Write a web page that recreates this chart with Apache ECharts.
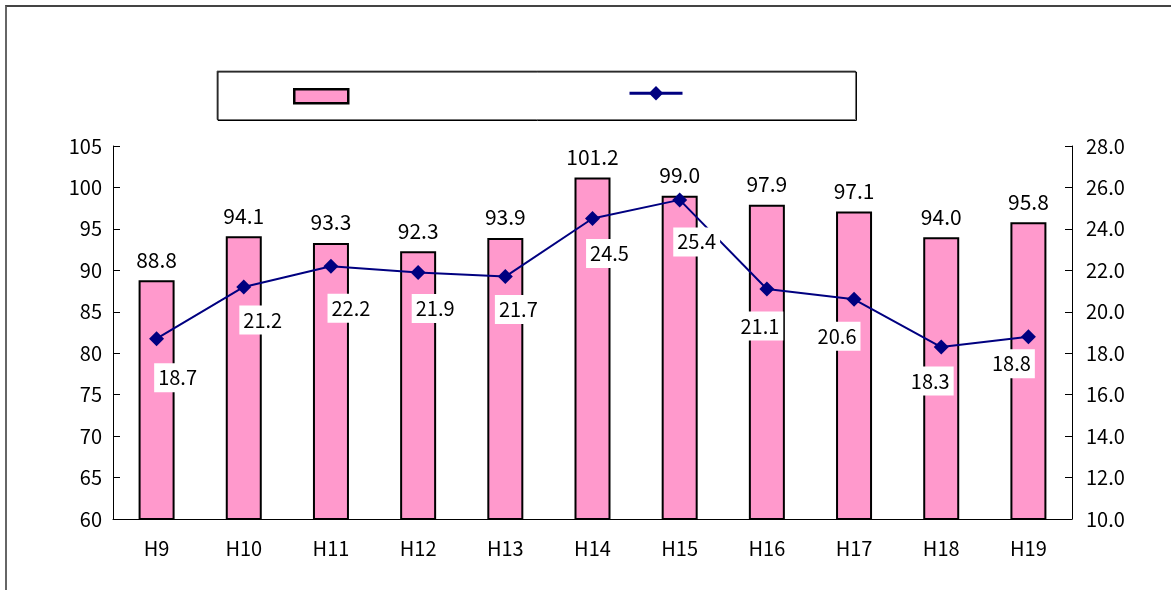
<!DOCTYPE html>
<html>
<head>
<meta charset="utf-8">
<script src="https://cdn.jsdelivr.net/npm/echarts@6/dist/echarts.min.js"></script>
<style>
html,body{margin:0;padding:0;background:#fff;}
#wrap{position:relative;width:1171px;height:590px;overflow:hidden;}
#frame{position:absolute;left:5px;top:5px;width:1200px;height:700px;border-top:2px solid #444;border-left:2px solid #666;box-sizing:border-box;}
#chart{position:absolute;left:0;top:0;width:1171px;height:590px;}
</style>
</head>
<body>
<div id="wrap"><div id="frame"></div><div id="chart"></div></div>
<script>
const categories = ['H9','H10','H11','H12','H13','H14','H15','H16','H17','H18','H19'];
const barValues = [88.8, 94.1, 93.3, 92.3, 93.9, 101.2, 99.0, 97.9, 97.1, 94.0, 95.8];
const lineValues = [18.7, 21.2, 22.2, 21.9, 21.7, 24.5, 25.4, 21.1, 20.6, 18.3, 18.8];
const leftTicks = {min: 60, max: 105, interval: 5};
const rightTicks = {min: 10, max: 28, interval: 2};

// label placement styling (offsets of line labels from their points)
const lineLabelOffsets = [[21,39],[19,33],[20,42],[17,36],[13,33],[17,35],[17,42],[-7,37],[-17,37],[-11,34],[-17,27]];

const FONT = '"Noto Sans CJK JP", "Liberation Sans", sans-serif';

const chart = echarts.init(document.getElementById('chart'), null, {renderer: 'canvas'});
chart.setOption({
  animation: false,
  backgroundColor: 'transparent',
  textStyle: {fontFamily: FONT},
  legend: [{
    left: 218, top: 72,
    padding: [16, 503, 16, 75],
    itemWidth: 54, itemHeight: 14,
    borderColor: '#000', borderWidth: 1,
    backgroundColor: '#fff',
    shadowColor: 'rgba(0,0,0,0.55)', shadowOffsetY: -1, shadowOffsetX: -1, shadowBlur: 0,
    textStyle: {fontSize: 1, color: '#fff'},
    icon: 'rect',
    data: [{name: ' ', itemStyle: {borderWidth: 2.5}}]
  }, {
    left: 628, top: 86,
    padding: 0,
    itemWidth: 53, itemHeight: 18,
    textStyle: {fontSize: 1, color: '#fff'},
    z: 5,
    data: [{name: '  ', lineStyle: {width: 3}}]
  }],
  grid: {left: 113, right: 99, top: 146, bottom: 71, containLabel: false},
  xAxis: {
    type: 'category',
    data: categories,
    axisLine: {lineStyle: {color: '#000', width: 1}},
    axisTick: {inside: true, length: 6, lineStyle: {color: '#000'}},
    axisLabel: {color: '#000', fontSize: 20, margin: 19, fontFamily: FONT}
  },
  yAxis: [{
    type: 'value', position: 'left',
    min: leftTicks.min, max: leftTicks.max, interval: leftTicks.interval,
    splitLine: {show: false},
    axisLine: {show: true, lineStyle: {color: '#000'}},
    axisTick: {show: true, inside: true, length: 7, lineStyle: {color: '#000'}},
    axisLabel: {color: '#000', fontSize: 20, margin: 11, fontFamily: FONT}
  }, {
    type: 'value', position: 'right',
    min: rightTicks.min, max: rightTicks.max, interval: rightTicks.interval,
    splitLine: {show: false},
    axisLine: {show: true, lineStyle: {color: '#000'}},
    axisTick: {show: true, inside: true, length: 7, lineStyle: {color: '#000'}},
    axisLabel: {color: '#000', fontSize: 20, margin: 14, fontFamily: FONT,
      formatter: v => v.toFixed(1)}
  }],
  series: [{
    name: ' ',
    type: 'bar',
    yAxisIndex: 0,
    data: barValues,
    barWidth: 36,
    itemStyle: {color: '#FF99CC', borderColor: '#000', borderWidth: 2},
    label: {show: true, position: 'top', distance: 10, color: '#000', fontSize: 21, fontFamily: FONT,
      formatter: p => p.value.toFixed(1)}
  }, {
    name: '  ',
    type: 'line',
    yAxisIndex: 1,
    data: lineValues.map((v, i) => ({
      value: v,
      label: {offset: lineLabelOffsets[i]}
    })),
    symbol: 'diamond', symbolSize: 15,
    lineStyle: {color: '#000080', width: 2},
    itemStyle: {color: '#000080'},
    label: {show: true, position: 'inside', color: '#000', fontSize: 20, fontFamily: FONT,
      backgroundColor: '#fff', padding: [5, 4, 4, 4],
      formatter: p => p.value.toFixed(1)},
    z: 3
  }]
});
</script>
</body>
</html>
